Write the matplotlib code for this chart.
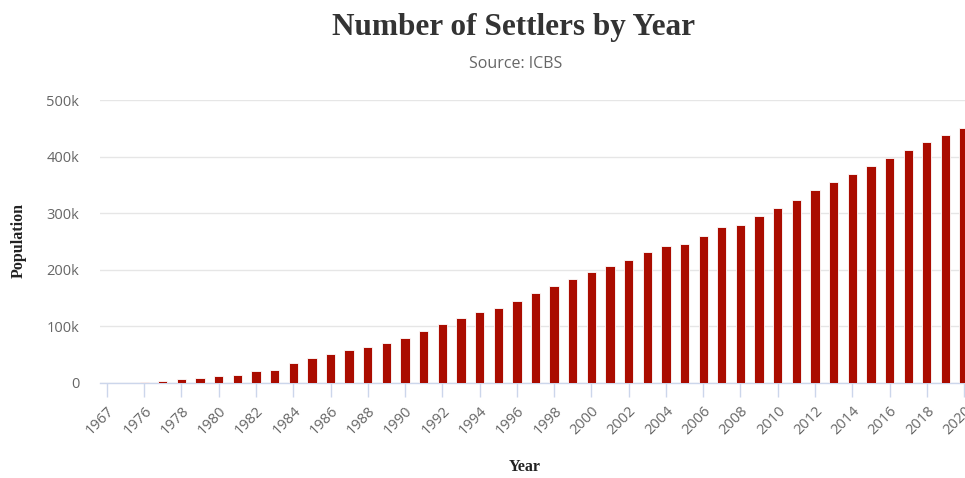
import matplotlib
matplotlib.use('Agg')
import matplotlib.pyplot as plt
import numpy as np

years = ['1967', '1972'] + [str(y) for y in range(1976, 2021)]
settlers = [0, 500, 1000,
            3500, 7000, 9500, 12000, 13500, 20500, 22500, 36000,
            44700, 51000, 57500, 64000, 70700, 79800,
            92400, 103600, 114500, 125400, 132000, 145500, 158500, 171400, 183000, 196000,
            206700, 218000, 231000, 241700, 246000, 259500, 275000, 279000, 294500, 309700,
            322800, 340500, 355000, 368700, 384000, 397000, 412000, 425800, 439000, 450000]
yticks = [0, 100000, 200000, 300000, 400000, 500000]
ytick_labels = ['0', '100k', '200k', '300k', '400k', '500k']

W, H = 965, 478
fig = plt.figure(figsize=(W / 100, H / 100), dpi=100)
ax = fig.add_axes([100 / W, (H - 383) / H, 865 / W, 283 / H])

x = np.arange(len(years))
ax.bar(x, settlers, width=0.5, color='#aa0c00', edgecolor='white', linewidth=0.6, zorder=3)

ax.set_xlim(-0.37, 46.05)
ax.set_ylim(0, 500000)

ax.set_yticks(yticks)
ax.set_yticklabels(ytick_labels, fontsize=10.5, color='#666666', family='Open Sans')
ax.tick_params(axis='y', length=0, pad=15)
ax.grid(axis='y', color='#e6e6e6', linewidth=1, zorder=0)

ax.set_xticks(x[::2])
ax.set_xticklabels(years[::2], rotation=45, ha='right', rotation_mode='anchor',
                   fontsize=10.5, color='#666666', family='Open Sans')
ax.tick_params(axis='x', length=10, width=1, color='#ccd6eb', pad=5)

for s in ['top', 'right', 'left']:
    ax.spines[s].set_visible(False)
ax.spines['bottom'].set_color('#ccd6eb')
ax.spines['bottom'].set_linewidth(1)

fig.text(513 / W, 1 - 27 / H, 'Number of Settlers by Year', ha='center', va='center',
         fontsize=22.5, fontweight='bold', family='Liberation Serif', color='#333333')
fig.text(516 / W, 1 - 64 / H, 'Source: ICBS', ha='center', va='center',
         fontsize=11.5, family='Open Sans', color='#666666')
fig.text(19 / W, 1 - 241 / H, 'Population', ha='center', va='center', rotation=90,
         fontsize=11.5, fontweight='bold', family='Liberation Serif', color='#222222')
fig.text(525 / W, 1 - 467 / H, 'Year', ha='center', va='center',
         fontsize=11.5, fontweight='bold', family='Liberation Serif', color='#222222')

fig.savefig('out.png', dpi=100, facecolor='white')
